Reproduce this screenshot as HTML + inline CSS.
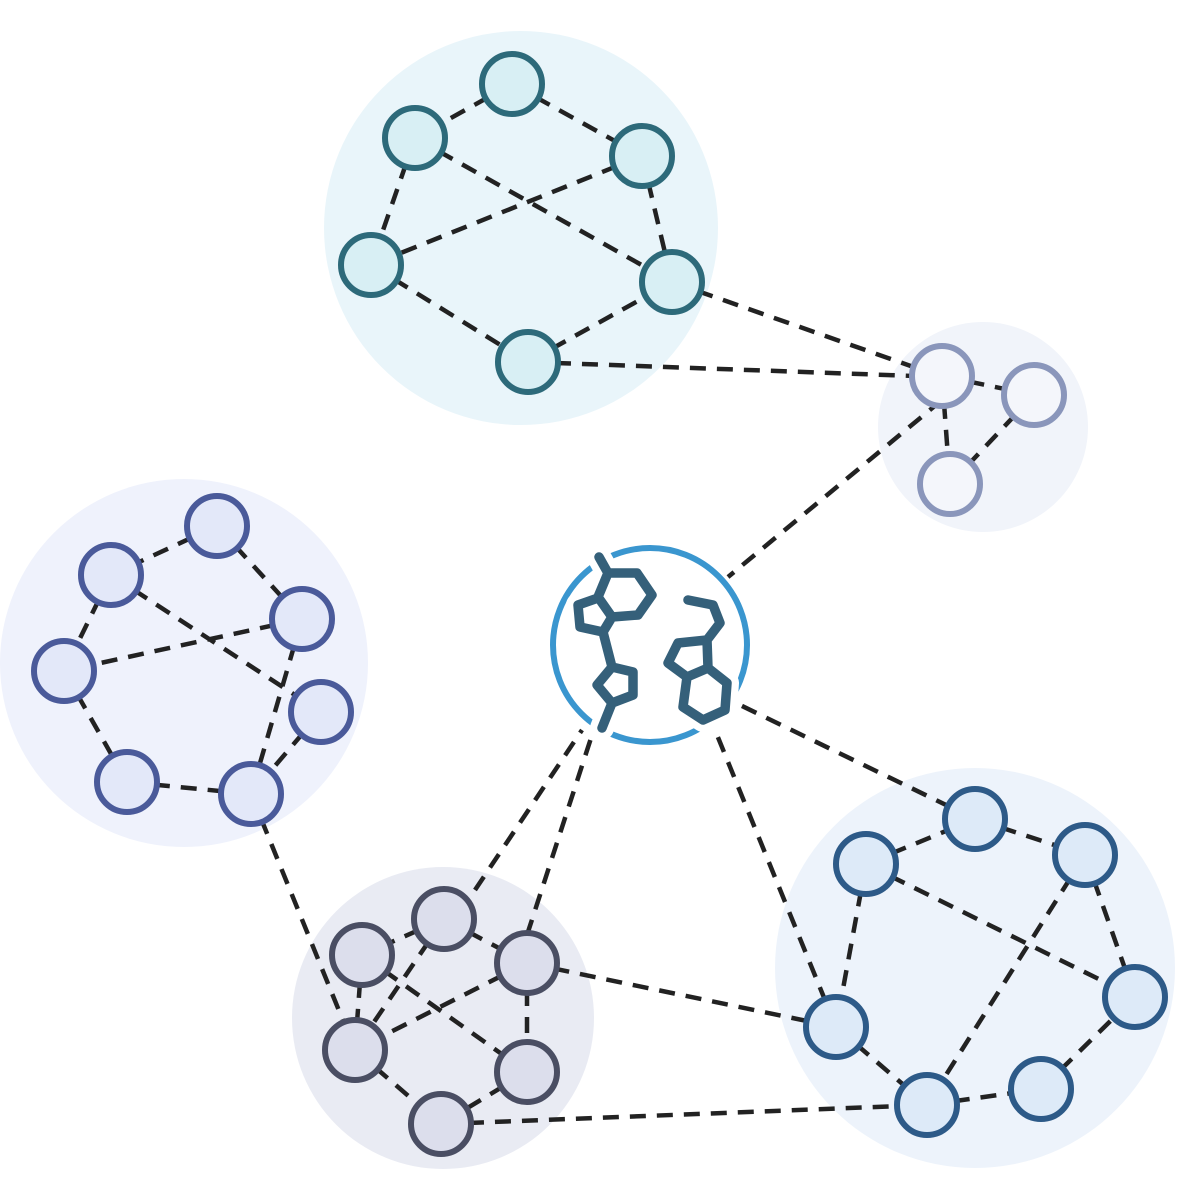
<!DOCTYPE html>
<html><head><meta charset="utf-8"><style>html,body{margin:0;padding:0;background:#fff}svg{display:block}</style></head>
<body>
<svg width="1200" height="1200" viewBox="0 0 1200 1200" xmlns="http://www.w3.org/2000/svg">
<circle cx="521" cy="228" r="197" fill="#e9f5fa"/>
<circle cx="983" cy="427" r="105" fill="#f1f4fa"/>
<circle cx="184" cy="663" r="184" fill="#eff2fc"/>
<circle cx="443" cy="1018" r="151" fill="#e9ebf3"/>
<circle cx="975" cy="968" r="200" fill="#edf3fb"/>
<g stroke="#222" stroke-width="4.5" stroke-dasharray="16 11" fill="none">
<path d="M512 84L415 138M512 84L642 156M415 138L371 265M415 138L672 282M642 156L371 265M642 156L672 282M371 265L528 362M528 362L672 282M528 362L942 377M672 282L942 377"/>
<path d="M942 376L1034 395M942 376L950 484M1034 395L950 484M942 400L728 577"/>
<path d="M217 526L111 575M217 526L302 619M111 575L64 671M111 575L321 712M302 619L64 671M302 619L251 794M64 671L127 782M127 782L251 794M321 712L251 794M251 794L355 1050"/>
<path d="M444 919L362 955M444 919L527 963M362 955L355 1050M362 955L527 1072M444 919L355 1050M527 963L355 1050M527 963L527 1072M355 1050L441 1124M527 1072L441 1124M441 1124L927 1105M527 963L836 1027M475 890L582 730M527 935L592 735"/>
<path d="M866 864L975 819M975 819L1085 855M866 864L836 1027M866 864L1135 997M1085 855L1135 997M1085 855L927 1105M836 1027L927 1105M927 1105L1041 1089M1041 1089L1135 997M975 819L740 705M836 1027L715 730"/>
</g>
<g stroke-width="6">
<g fill="#d8eff4" stroke="#2d6a7a">
<circle cx="512" cy="84" r="30"/><circle cx="415" cy="138" r="30"/><circle cx="642" cy="156" r="30"/><circle cx="371" cy="265" r="30"/><circle cx="672" cy="282" r="30"/><circle cx="528" cy="362" r="30"/>
</g>
<g fill="#f4f6fb" stroke="#8a96bb">
<circle cx="942" cy="376" r="30"/><circle cx="1034" cy="395" r="30"/><circle cx="950" cy="484" r="30"/>
</g>
<g fill="#e3e8f9" stroke="#4a5a9a">
<circle cx="217" cy="526" r="30"/><circle cx="111" cy="575" r="30"/><circle cx="302" cy="619" r="30"/><circle cx="64" cy="671" r="30"/><circle cx="321" cy="712" r="30"/><circle cx="127" cy="782" r="30"/><circle cx="251" cy="794" r="30"/>
</g>
<g fill="#dcdeec" stroke="#4a4e63">
<circle cx="444" cy="919" r="30"/><circle cx="362" cy="955" r="30"/><circle cx="527" cy="963" r="30"/><circle cx="355" cy="1050" r="30"/><circle cx="527" cy="1072" r="30"/><circle cx="441" cy="1124" r="30"/>
</g>
<g fill="#ddeaf8" stroke="#2d5a88">
<circle cx="975" cy="819" r="30"/><circle cx="866" cy="864" r="30"/><circle cx="1085" cy="855" r="30"/><circle cx="1135" cy="997" r="30"/><circle cx="836" cy="1027" r="30"/><circle cx="1041" cy="1089" r="30"/><circle cx="927" cy="1105" r="30"/>
</g>
</g>
<circle cx="650" cy="645" r="97" fill="#fff" stroke="#3a96cf" stroke-width="6"/>
<g fill="none" stroke-linecap="round" stroke-linejoin="round">
<g stroke="#fff" stroke-width="24">
<path d="M599 557L608 573L637 573L652 595L638 615L612 617L598 597L608 573M598 598L578 605L580 627L603 632L612 617M603 632L612 667L633 672L633 695L612 703L597 685L612 667M612 703L602 728"/>
<path d="M688 600L713 605L720 623L707 640L678 643L668 663L687 677L708 668L707 640M687 677L683 707L703 720L725 710L727 683L708 668"/>
</g>
<g stroke="#35607a" stroke-width="9.5">
<path d="M599 557L608 573L637 573L652 595L638 615L612 617L598 597L608 573M598 598L578 605L580 627L603 632L612 617M603 632L612 667L633 672L633 695L612 703L597 685L612 667M612 703L602 728"/>
<path d="M688 600L713 605L720 623L707 640L678 643L668 663L687 677L708 668L707 640M687 677L683 707L703 720L725 710L727 683L708 668"/>
</g>
</g>
</svg>
</body></html>
